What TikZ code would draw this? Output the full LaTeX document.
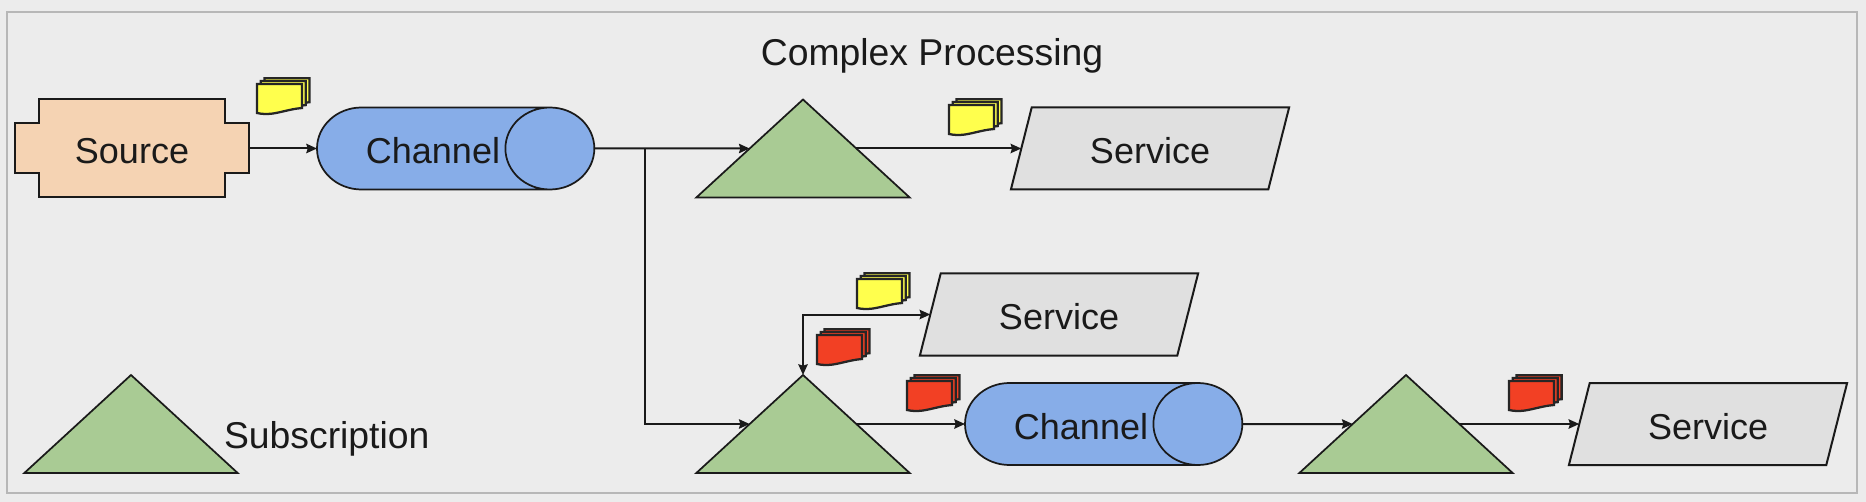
\documentclass[tikz,border=0pt]{standalone}
\usepackage{fontspec}
\setmainfont{Liberation Sans}
\usetikzlibrary{arrows.meta, calc, shapes.geometric}

\definecolor{panelgray}{HTML}{ECECEC}
\definecolor{framegray}{HTML}{B7B7B7}
\definecolor{sourcefill}{HTML}{F5D3B3}
\definecolor{channelfill}{HTML}{87ADE8}
\definecolor{subfill}{HTML}{A9CB94}
\definecolor{servicefill}{HTML}{E0E0E0}
\definecolor{msgyellow}{HTML}{FFFF4D}
\definecolor{msgred}{HTML}{F24024}
\definecolor{inkblack}{HTML}{1A1A1A}

\tikzset{
  labeltext/.style={font=\fontsize{27}{32}\selectfont, text=inkblack, inner sep=0pt, outer sep=0pt,
    text height=23pt, text depth=0pt},
  legendtext/.style={labeltext, font=\fontsize{28}{32}\selectfont},
  sourcebox/.style={labeltext, minimum width=176pt, minimum height=73.5pt},
  channelbox/.style={labeltext, cylinder, draw=inkblack, line width=1.3pt, fill=channelfill,
    aspect=2.9, minimum width=61.5pt, minimum height=208pt, anchor=west},
  servicebox/.style={labeltext, trapezium, trapezium stretches=true, draw=inkblack, line width=1.5pt,
    fill=servicefill, trapezium left angle=71, trapezium right angle=109,
    minimum width=209pt, minimum height=61.5pt},
  subtri/.style={isosceles triangle, isosceles triangle stretches, shape border rotate=90,
    draw=inkblack, line width=1.3pt, fill=subfill, inner sep=0pt, outer sep=0pt,
    minimum width=160pt, minimum height=73.5pt, anchor=lower side},
  link/.style={draw=inkblack, line width=1.5pt},
  pics/msgstack/.style={code={
    \foreach \n in {2,1,0}
      \draw[draw=black!85, line width=1.7pt, fill=#1, shift={(3.8*\n,-2.9*\n)}]
        (0,0) -- (45,0) -- (45,24) .. controls (32,25) and (20,30) .. (10,30)
        .. controls (5,30) and (2,29.5) .. (0,29) -- cycle;
  }},
}
\newcommand{\inedge}[1]{($(#1.apex)!0.5!(#1.left corner)$)}
\newcommand{\outedge}[1]{($(#1.apex)!0.5!(#1.right corner)$)}

\begin{document}
\begin{tikzpicture}[x=0.75pt,y=-0.75pt,>={Stealth[length=8pt,width=7pt,inset=1pt]}]
  \useasboundingbox (0,0) rectangle (1866,502);
  \fill[panelgray] (0,0) rectangle (1866,502);
  \draw[framegray, line width=1.5pt, fill=panelgray] (7,12) rectangle (1857,493);

  % Top row
  \draw[draw=inkblack, line width=1.5pt, fill=sourcefill]
    (39,99) -- (225,99) -- (225,123) -- (249,123) -- (249,173) -- (225,173)
    -- (225,197) -- (39,197) -- (39,173) -- (15,173) -- (15,123) -- (39,123) -- cycle;
  \node[sourcebox] (source) at (132,148.5) {Source};
  \node[channelbox] (channel1) at (317,148.5) {Channel};
  \node[subtri] (sub1) at (803,197.5) {};
  \node[servicebox] (service1) at (1150,148.5) {Service};

  % Lower rows
  \node[servicebox] (service2) at (1059,314.5) {Service};
  \node[subtri] (sub2) at (803,473) {};
  \node[channelbox] (channel2) at (965,424) {Channel};
  \node[subtri] (sub3) at (1406,473) {};
  \node[servicebox] (service3) at (1708,424) {Service};

  \coordinate (branch) at (645,148.5);

  \draw[link,->] (source.east) -- (channel1.west);
  \draw[link,->] (channel1.east) -- \inedge{sub1};
  \draw[link,->] \outedge{sub1} -- (service1.left side);
  \draw[link,->] (branch) |- \inedge{sub2};
  \draw[link,<->] (sub2.apex) |- (service2.left side);
  \draw[link,->] \outedge{sub2} -- (channel2.west);
  \draw[link,->] (channel2.east) -- \inedge{sub3};
  \draw[link,->] \outedge{sub3} -- (service3.left side);

  % Messages
  \pic at (257,84) {msgstack=msgyellow};
  \pic at (949,105) {msgstack=msgyellow};
  \pic at (857,279) {msgstack=msgyellow};
  \pic at (817,335) {msgstack=msgred};
  \pic at (907,381) {msgstack=msgred};
  \pic at (1509,381) {msgstack=msgred};

  % Legend
  \node[subtri] (legendtri) at (131,473) {};
  \node[legendtext, anchor=west] (legendtext) at (224,433) {Subscription};
  \node[legendtext] (title) at (932,50) {Complex Processing};
\end{tikzpicture}
\end{document}
